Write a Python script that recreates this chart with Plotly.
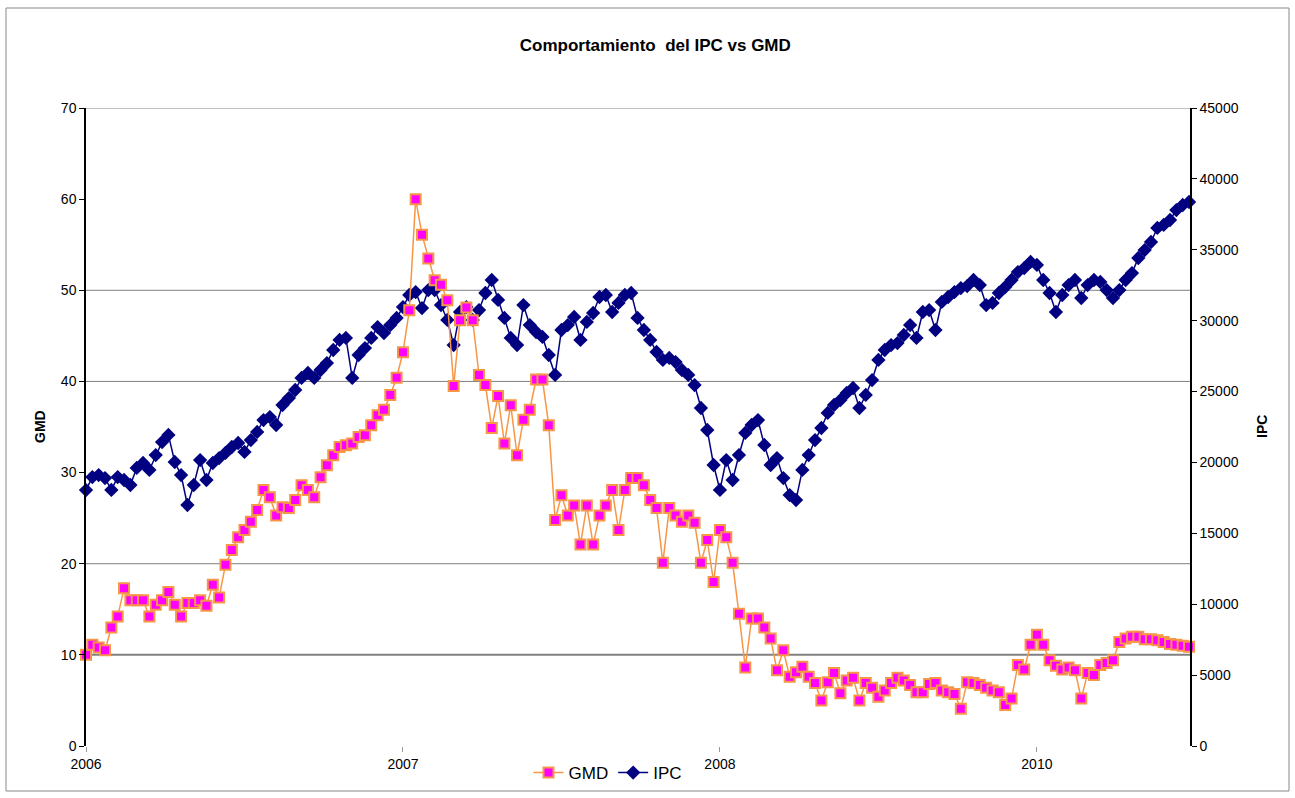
import plotly.graph_objects as go

chart_title = "Comportamiento  del IPC vs GMD"
x_tick_labels = ["2006", "2007", "2008", "2010"]
x_tick_pos = [0, 50, 100, 150]

gmd = [
    10.0, 11.1, 10.8, 10.5, 13.0, 14.2, 17.3, 16.0, 16.0, 16.0,
    14.2, 15.5, 16.0, 16.9, 15.5, 14.2, 15.7, 15.7, 16.0, 15.4,
    17.7, 16.3, 19.9, 21.5, 22.9, 23.7, 24.6, 25.9, 28.1, 27.3,
    25.3, 26.2, 26.1, 27.0, 28.6, 28.1, 27.3, 29.5, 30.8, 31.9,
    32.8, 33.0, 33.2, 33.9, 34.1, 35.2, 36.3, 36.9, 38.5, 40.4,
    43.2, 47.8, 60.0, 56.1, 53.5, 51.1, 50.6, 48.9, 39.5, 46.7,
    48.1, 46.7, 40.7, 39.6, 34.9, 38.4, 33.2, 37.4, 31.9, 35.8,
    36.9, 40.2, 40.2, 35.2, 24.8, 27.5, 25.3, 26.4, 22.1, 26.4,
    22.1, 25.3, 26.4, 28.1, 23.7, 28.1, 29.4, 29.4, 28.6, 27.0,
    26.1, 20.1, 26.1, 25.3, 24.6, 25.3, 24.5, 20.1, 22.6, 18.0,
    23.7, 22.9, 20.1, 14.5, 8.6, 14.0, 14.0, 13.0, 11.8, 8.3,
    10.5, 7.6, 8.1, 8.7, 7.6, 6.9, 5.0, 7.0, 8.0, 5.8,
    7.2, 7.5, 5.0, 6.9, 6.4, 5.4, 6.1, 6.9, 7.5, 7.2,
    6.7, 5.9, 5.9, 6.8, 6.9, 6.1, 5.9, 5.7, 4.1, 7.0,
    6.9, 6.7, 6.4, 6.1, 5.9, 4.5, 5.2, 8.9, 8.4, 11.1,
    12.2, 11.1, 9.4, 8.8, 8.4, 8.6, 8.3, 5.2, 8.0, 7.8,
    8.9, 9.1, 9.4, 11.4, 11.8, 12.0, 12.0, 11.7, 11.7, 11.6,
    11.4, 11.2, 11.1, 11.0, 10.9,
]

ipc = [
    18050, 18970, 19110, 18900, 18060, 18970, 18760, 18410, 19610, 19960,
    19470, 20520, 21440, 21940, 20030, 19110, 17000, 18410, 20170, 18760,
    19960, 20310, 20670, 21090, 21370, 20740, 21580, 22150, 22990, 23200,
    22640, 24050, 24540, 25110, 25960, 26310, 25960, 26520, 27010, 27930,
    28640, 28780, 25960, 27580, 28070, 28780, 29550, 29130, 29690, 30190,
    30960, 31810, 32020, 30890, 32160, 32160, 31100, 30050, 28280, 30610,
    30960, 30050, 30750, 31950, 32870, 31460, 30190, 28780, 28280, 31100,
    29690, 29200, 28850, 27580, 26170, 29340, 29690, 30260, 28640, 29910,
    30540, 31670, 31810, 30610, 31250, 31810, 31950, 30190, 29340, 28640,
    27790, 27230, 27370, 27080, 26520, 26170, 25460, 23840, 22290, 19820,
    18060, 20170, 18760, 20520, 22080, 22640, 22990, 21230, 19820, 20310,
    18900, 17700, 17350, 19470, 20520, 21580, 22430, 23490, 24050, 24400,
    24900, 25250, 23840, 24760, 25810, 27230, 27930, 28280, 28420, 28990,
    29690, 28780, 30610, 30750, 29340, 31320, 31670, 32020, 32300, 32440,
    32870, 32510, 31100, 31250, 31950, 32370, 32870, 33430, 33710, 34140,
    33930, 32870, 31950, 30610, 31810, 32510, 32870, 31600, 32510, 32870,
    32730, 32160, 31600, 32160, 32870, 33360, 34420, 34980, 35550, 36540,
    36750, 37100, 37800, 38160, 38370,
]

grid_levels = [10, 20, 40, 50, 70]
idx = list(range(len(gmd)))

FONT = "Arial, 'Liberation Sans', sans-serif"

fig = go.Figure()
fig.add_trace(go.Scatter(
    x=idx, y=ipc, name="IPC", yaxis="y", mode="lines+markers",
    line=dict(color="#000080", width=1.5),
    marker=dict(symbol="diamond", size=11, color="#000080", line=dict(width=0)),
    cliponaxis=False, legendrank=2,
))
fig.add_trace(go.Scatter(
    x=idx, y=gmd, name="GMD", yaxis="y2", mode="lines+markers",
    line=dict(color="#F79646", width=1.5),
    marker=dict(symbol="square", size=10, color="#FF00FF",
                line=dict(color="#F79646", width=2)),
    cliponaxis=False, legendrank=1,
))

shapes = []
for g in grid_levels:
    shapes.append(dict(type="line", xref="paper", x0=0, x1=1, yref="y2", y0=g, y1=g,
                       line=dict(color="#808080", width=2 if g == 10 else 1), layer="below"))
shapes.append(dict(type="rect", xref="paper", yref="paper",
                   x0=(6 - 86) / 1104, x1=(1289 - 86) / 1104,
                   y0=(746 - 791) / 638, y1=(746 - 8) / 638,
                   line=dict(color="#888888", width=1), layer="below"))

fig.update_layout(
    width=1295, height=798, autosize=False,
    margin=dict(l=86, r=105, t=108, b=52, autoexpand=False),
    paper_bgcolor="white", plot_bgcolor="white",
    font=dict(family=FONT, size=14, color="black"),
    title=dict(text=chart_title, xref="container", yref="container",
               x=0.506, y=1 - 45 / 798, xanchor="center", yanchor="middle",
               font=dict(family=FONT, size=17, color="black", weight="bold")),
    xaxis=dict(range=[0, 174.15], tickvals=x_tick_pos, ticktext=x_tick_labels,
               showgrid=False, zeroline=False, showline=False, automargin=False,
               ticks="outside", ticklen=5, tickcolor="#999999",
               ticklabelstandoff=0, tickfont=dict(size=14)),
    yaxis=dict(side="right", range=[0, 45000], dtick=5000, tickformat="d",
               showgrid=False, zeroline=False, showline=True, linecolor="black",
               linewidth=1.5, ticks="outside", ticklen=5, tickcolor="black",
               automargin=False, tickfont=dict(size=14)),
    yaxis2=dict(overlaying="y", side="left", range=[0, 70], dtick=10,
                showgrid=False, zeroline=False, showline=True, automargin=False,
                linecolor="black", linewidth=1.5, ticks="outside", ticklen=5,
                tickcolor="black", tickfont=dict(size=14)),
    legend=dict(orientation="h", xref="container", yref="container",
                x=608 / 1295, xanchor="center", y=1 - 773 / 798,
                yanchor="middle", font=dict(size=17), bgcolor="rgba(0,0,0,0)"),
    shapes=shapes,
    annotations=[
        dict(text="GMD", xref="paper", yref="paper", x=(40 - 86) / 1104, y=0.5,
             textangle=-90, showarrow=False, xanchor="center", yanchor="middle",
             font=dict(family=FONT, size=14, color="black", weight="bold")),
        dict(text="IPC", xref="paper", yref="paper", x=(1262 - 86) / 1104, y=0.5,
             textangle=-90, showarrow=False, xanchor="center", yanchor="middle",
             font=dict(family=FONT, size=14, color="black", weight="bold")),
    ],
)

fig.write_html("out.html", config={"displayModeBar": False},
               post_script="document.body.style.margin='0';document.body.style.overflow='hidden';")
